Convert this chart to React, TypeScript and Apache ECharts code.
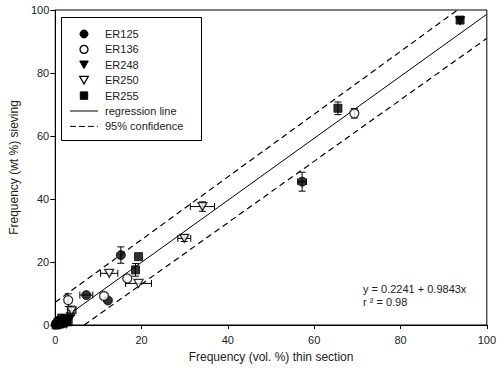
import React, { useEffect, useRef } from "react";
import * as echarts from "echarts";

// [x, y, xErr, yErr]
const er125 = [
  [57.2, 45.5, 1, 3],
  [15.2, 22.2, 0, 2.6],
  [7.2, 9.5, 1.5, 0],
  [12.2, 7.8, 0, 0],
  [0.3, 0.5, 0, 0],
  [1.2, 0.3, 0, 0],
  [2.5, 1.0, 0, 0],
  [0.1, 0.1, 0, 0],
  [0.6, 1.3, 0, 0],
  [1.8, 0.5, 0, 0],
];
const er136 = [
  [69.3, 67.2, 0, 1.5],
  [16.7, 14.8, 0, 0],
  [3.0, 7.9, 0, 2],
  [11.3, 9.2, 0, 0],
  [0.8, 0.8, 0, 0],
];
const er248 = [
  [93.8, 96.6, 0, 0],
  [0.5, 0.2, 0, 0],
  [1.8, 0.6, 0, 0],
  [3.2, 1.6, 0, 0],
  [2.6, 0.3, 0, 0],
  [3.6, 2.6, 0, 0],
];
const er250 = [
  [34.1, 37.6, 2.8, 1.5],
  [29.9, 27.5, 1.5, 1],
  [12.5, 16.4, 2, 0],
  [19.3, 13.2, 3, 0],
  [3.8, 4.5, 1, 1.5],
];
const er255 = [
  [93.8, 96.8, 0, 0],
  [65.5, 68.8, 0, 2],
  [19.3, 21.7, 0, 0],
  [18.6, 17.5, 0, 2],
  [1.0, 1.2, 0, 0],
  [2.2, 2.0, 0, 0],
  [0.2, 0.0, 0, 0],
  [3.0, 1.0, 0, 0],
  [1.5, 2.2, 0, 0],
];

const regressionLine = [
  [0, 0.2241],
  [100, 98.65],
];
const upperConf = [
  [0, 7.2],
  [93.2, 100],
];
const lowerConf = [
  [6.7, 0],
  [100, 91],
];

const xTicks = [0, 20, 40, 60, 80, 100];
const yTicks = [0, 20, 40, 60, 80, 100];
const legendLabels = ["ER125", "ER136", "ER248", "ER250", "ER255", "regression line", "95% confidence"];
const equationText = ["y = 0.2241 + 0.9843x", "r ² = 0.98"];

const FONT = "Liberation Sans, Arial, sans-serif";
const TXT = "#222";
const INV_TRI = "path://M0,0 L10,0 L5,9 Z";

function legendGraphics() {
  const g: any[] = [];
  const left = 61.5, top = 17.5, w = 140, h = 123;
  g.push({ type: "rect", shape: { x: left, y: top, width: w, height: h }, style: { fill: "#fff", stroke: "#000", lineWidth: 1 }, z: 10 });
  const cx = 84;
  const y0 = 34, step = 15.4;
  const filled = { fill: "#000", stroke: "#000", lineWidth: 1 };
  const open = { fill: "#fff", stroke: "#000", lineWidth: 1.3 };
  legendLabels.forEach((label, i) => {
    const y = y0 + i * step;
    if (i === 0 || i === 1) {
      g.push({ type: "circle", shape: { cx, cy: y, r: 4 }, style: i === 0 ? filled : open, z: 11 });
    } else if (i === 2 || i === 3) {
      g.push({ type: "polygon", shape: { points: [[cx - 4.3, y - 3.8], [cx + 4.3, y - 3.8], [cx, y + 3.8]] }, style: i === 2 ? filled : open, z: 11 });
    } else if (i === 4) {
      g.push({ type: "rect", shape: { x: cx - 3.7, y: y - 3.7, width: 7.4, height: 7.4 }, style: filled, z: 11 });
    } else {
      g.push({ type: "line", shape: { x1: 70, y1: y, x2: 98, y2: y }, style: { stroke: "#000", lineWidth: 1, lineDash: i === 6 ? [6, 3] : null }, z: 11 });
    }
    g.push({ type: "text", x: 105, y, style: { text: label, fontSize: 11, fill: TXT, fontFamily: FONT, verticalAlign: "middle" }, z: 11 });
  });
  return g;
}

export default function App() {
  const ref = useRef<HTMLDivElement>(null);
  useEffect(() => {
    if (!ref.current) return;
    const chart = echarts.init(ref.current, undefined, { renderer: "svg" });
    const filled = { color: "#000", borderColor: "#000", borderWidth: 1 };
    const open = { color: "#fff", borderColor: "#000", borderWidth: 1.3 };
    const allErr = [...er125, ...er136, ...er248, ...er250, ...er255].filter(
      (p) => p[2] > 0 || p[3] > 0
    );
    const scatter = (name: string, data: number[][], symbol: string, style: any) => ({
      name,
      type: "scatter",
      data: data.map((p) => [p[0], p[1]]),
      symbol,
      symbolSize: symbol === INV_TRI ? [9, 8] : symbol === "rect" ? 8 : 9,
      itemStyle: style,
      clip: false,
      z: 3,
    });
    chart.setOption({
      animation: false,
      grid: {
        left: 53,
        right: 6,
        top: 10,
        bottom: 49,
        show: true,
        borderColor: "#000",
        borderWidth: 1,
        backgroundColor: "transparent",
      },
      xAxis: {
        type: "value",
        min: xTicks[0],
        max: xTicks[xTicks.length - 1],
        interval: 20,
        name: "Frequency (vol. %) thin section",
        nameLocation: "middle",
        nameGap: 26,
        nameTextStyle: { fontSize: 12, color: TXT, fontFamily: FONT },
        axisLine: { lineStyle: { color: "#000", width: 1 } },
        axisTick: { show: true, inside: false, length: 4, lineStyle: { color: "#000" } },
        axisLabel: { fontSize: 11, color: TXT, fontFamily: FONT, margin: 9 },
        splitLine: { show: false },
      },
      yAxis: {
        type: "value",
        min: yTicks[0],
        max: yTicks[yTicks.length - 1],
        interval: 20,
        name: "Frequency (wt %) sieving",
        nameLocation: "middle",
        nameGap: 33,
        nameTextStyle: { fontSize: 12, color: TXT, fontFamily: FONT },
        axisLine: { lineStyle: { color: "#000", width: 1 } },
        axisTick: { show: true, inside: false, length: 5, lineStyle: { color: "#000" } },
        axisLabel: { fontSize: 11, color: TXT, fontFamily: FONT, margin: 6 },
        splitLine: { show: false },
      },
      graphic: [
        ...legendGraphics(),
        {
          type: "text",
          left: 363,
          top: 282,
          style: {
            text: equationText.join("\n"),
            fontSize: 11,
            lineHeight: 13,
            fill: TXT,
            fontFamily: FONT,
          },
        },
      ],
      series: [
        {
          name: "regression line",
          type: "line",
          data: regressionLine,
          symbol: "none",
          color: "#000",
          lineStyle: { color: "#000", width: 1, type: "solid" },
          z: 1,
        },
        {
          name: "95% confidence upper",
          type: "line",
          data: upperConf,
          symbol: "none",
          color: "#000",
          lineStyle: { color: "#000", width: 1.2, type: [6, 4] },
          z: 1,
        },
        {
          name: "95% confidence lower",
          type: "line",
          data: lowerConf,
          symbol: "none",
          color: "#000",
          lineStyle: { color: "#000", width: 1.2, type: [6, 4] },
          z: 1,
        },
        {
          name: "errorbars",
          type: "custom",
          data: allErr,
          encode: { x: 0, y: 1 },
          z: 2,
          clip: false,
          renderItem: (params: any, api: any) => {
            const x = api.value(0);
            const y = api.value(1);
            const ex = api.value(2);
            const ey = api.value(3);
            const cap = 3.5;
            const style = { stroke: "#000", lineWidth: 1 };
            const children: any[] = [];
            if (ex > 0) {
              const l = api.coord([x - ex, y]);
              const r = api.coord([x + ex, y]);
              children.push({ type: "line", shape: { x1: l[0], y1: l[1], x2: r[0], y2: r[1] }, style });
              children.push({ type: "line", shape: { x1: l[0], y1: l[1] - cap, x2: l[0], y2: l[1] + cap }, style });
              children.push({ type: "line", shape: { x1: r[0], y1: r[1] - cap, x2: r[0], y2: r[1] + cap }, style });
            }
            if (ey > 0) {
              const b = api.coord([x, y - ey]);
              const t = api.coord([x, y + ey]);
              children.push({ type: "line", shape: { x1: b[0], y1: b[1], x2: t[0], y2: t[1] }, style });
              children.push({ type: "line", shape: { x1: b[0] - cap, y1: b[1], x2: b[0] + cap, y2: b[1] }, style });
              children.push({ type: "line", shape: { x1: t[0] - cap, y1: t[1], x2: t[0] + cap, y2: t[1] }, style });
            }
            return { type: "group", children };
          },
        },
        scatter("ER125", er125, "circle", filled),
        scatter("ER136", er136, "circle", open),
        scatter("ER248", er248, INV_TRI, filled),
        scatter("ER250", er250, INV_TRI, open),
        scatter("ER255", er255, "rect", filled),
      ],
    });
    return () => chart.dispose();
  }, []);
  return <div ref={ref} style={{ width: 499, height: 374, position: "absolute", left: 0, top: 0 }} />;
}
